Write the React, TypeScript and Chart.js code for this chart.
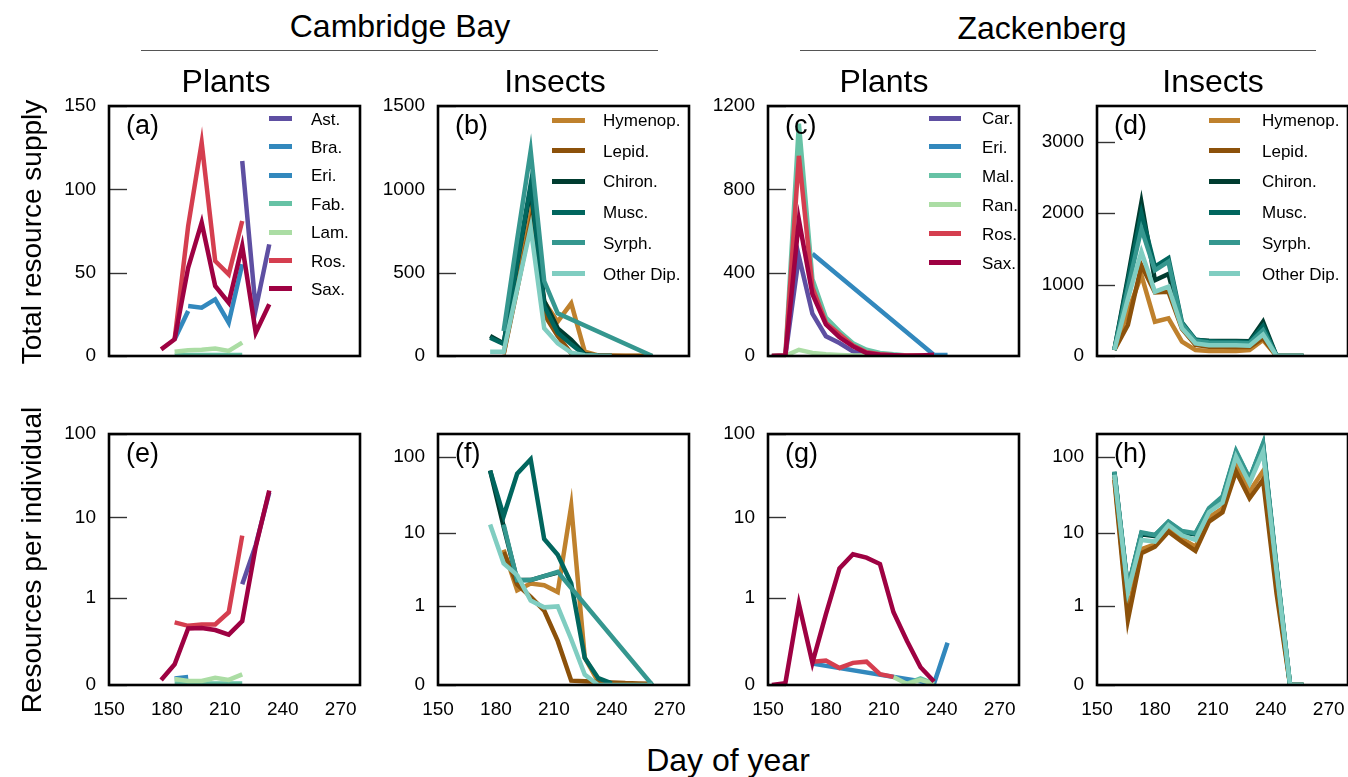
import React, { useEffect, useRef } from 'react';
import { Chart, registerables } from 'chart.js';
Chart.register(...registerables);

const FONT = "'Liberation Sans', Arial, Helvetica, sans-serif";

// ---------- colours ----------
const C_AST = '#5E4FA2';
const C_BRA = '#3288BD';
const C_ERI = '#3288BD';
const C_FAB = '#66C2A5';
const C_LAM = '#ABDDA4';
const C_ROS = '#D53E4F';
const C_SAX = '#9E0142';
const C_HYM = '#BF812D';
const C_LEP = '#8C510A';
const C_CHI = '#003C30';
const C_MUS = '#01665E';
const C_SYR = '#35978F';
const C_OTH = '#80CDC1';

// ---------- axes ----------
const xTicks = [150, 180, 210, 240, 270];
const xMin = 150;
const xMax = 280;

// ---------- Cambridge Bay ----------
const cbDays = [177, 184, 191, 198, 205, 212, 219, 226, 233, 240, 247, 254, 261];

// (a) plants, total resource supply
const aAst = [null, null, null, null, null, null, 117, 28, 67];
const aBra = [null, 10, 27];
const aEri = [null, null, 30, 29, 34, 20, 55];
const aFab = [null, 0.6, 0.6, 0.6, 0.6, 0.6, 0.6];
const aLam = [null, 2.5, 3.5, 3.8, 4.5, 3, 8];
const aRos = [null, 10, 78, 128, 57, 49, 81];
const aSax = [4, 10, 53, 80, 42, 32, 66, 14, 31];

// (b) insects, total resource supply
const bHym = [null, 15, 420, 850, 326, 206, 316, 26, 3, 2, 1, 1, 0];
const bLep = [null, 10, 400, 800, 250, 120, 15, 3, 1, 1, 0, 0, 0];
const bChi = [120, 75, 550, 1000, 330, 166, 96, 10, 3, 1];
const bMus = [110, 72, 560, 1030, 300, 140, 70, 6, 2];
const bSyr = [null, 150, 700, 1230, 450, 256, null, null, null, null, null, null, 0];
const bOth = [26, 26, 400, 770, 166, 76, 20, 5, 1, 0];

// (e) plants, resources per individual
const eAst = [null, null, null, null, null, null, 1.5, 4.6, 20];
const eBra = [null, 0.02, 0.025];
const eFab = [null, 0.004, 0.004, 0.004, 0.004, 0.004, 0.004];
const eLam = [null, 0.018, 0.012, 0.012, 0.022, 0.015, 0.034];
const eRos = [null, 0.46, 0.41, 0.43, 0.43, 0.64, 6.0];
const eSax = [0.015, 0.077, 0.375, 0.38, 0.354, 0.3, 0.48, 4.4, 21];

// (f) insects, resources per individual
const fHym = [null, 5.9, 1.66, 2.06, 1.95, 1.57, 22.5, 0.13, 0.01, 0.005, 0.003, 0.002, 0];
const fLep = [null, 5.5, 2.0, 1.34, 0.85, 0.28, 0.014, 0.012, 0.01, 0.008, 0.006, 0.005, 0.004];
const fChi = [66, 12, 2.3, 2.3, 2.6, 2.9];
const fMus = [66, 16.6, 60, 93, 8.2, 5.05, 2.06, 0.127, 0.023, 0.005];
const fSyr = [null, 12.8, 2.29, 2.3, 2.6, 2.98, null, null, null, null, null, null, 0];
const fOth = [12.8, 3.88, 2.69, 1.19, 0.95, 0.98, 0.3, 0.037, 0, 0, 0, 0, 0];

// ---------- Zackenberg ----------
const zpDays = [152, 159, 166, 173, 180, 187, 194, 201, 208, 215, 222, 229, 236, 243];

// (c) plants, total resource supply
const cCar = [0, 2, 478, 203, 95, 62, 22, 5, 2, 1, 0, 0, 0];
const cEri = [null, null, null, 491, null, null, null, null, null, null, null, null, 5, 5];
const cMal = [0, 2, 1115, 370, 184, 118, 61, 30, 15, 8, 3, 2, 1];
const cRan = [0, 1, 30, 15, 8, 5, 3, 2, 1, 1, 1, 1, 1];
const cRos = [0, 2, 961, 329, 159, 105, 50, 18, 8, 4, 2, 2, 3];
const cSax = [0, 3, 653, 297, 151, 90, 46, 14, 6, 4, 1, 3, 6];

// (g) plants, resources per individual
const gEri = [null, null, null, 0.08, null, null, null, null, null, null, null, null, 0.004, 0.22];
const gMal = [null, null, null, null, null, null, null, null, null, null, 0.004, 0.02, 0.003];
const gRan = [null, null, null, null, null, null, null, null, null, 0.025, 0.003, 0.015, 0.003];
const gRos = [null, null, null, 0.09, 0.096, 0.06, 0.084, 0.09, 0.035, 0.025];
const gSax = [0, 0.005, 0.83, 0.084, 0.605, 2.37, 3.55, 3.23, 2.69, 0.64, 0.236, 0.063, 0.01];

const ziDays = [159, 166, 173, 180, 187, 194, 201, 208, 215, 222, 229, 236, 243, 250, 257];

// (d) insects, total resource supply
const dHym = [84, 620, 1130, 480, 527, 200, 84, 70, 70, 70, 84, 224, 0, 0, 0];
const dLep = [84, 434, 1270, 890, 900, 380, 155, 130, 130, 125, 125, 250, 0, 0, 0];
const dChi = [84, 1100, 2150, 1060, 1150, 430, 225, 215, 210, 210, 205, 480, 0, 0, 0];
const dMus = [84, 1050, 2000, 1250, 1370, 470, 230, 205, 200, 200, 195, 420, 0, 0, 0];
const dSyr = [84, 950, 1780, 1200, 1320, 450, 215, 190, 185, 185, 180, 360, 0, 0, 0];
const dOth = [84, 800, 1460, 900, 970, 390, 177, 150, 150, 150, 145, 300, 0, 0, 0];

// (h) insects, resources per individual
const hHym = [55, 0.8, 6, 7, 11, 8.3, 6.5, 16, 21, 80, 35, 65, 2, 0, 0];
const hLep = [50, 0.62, 5.3, 6.5, 10.3, 7.6, 5.7, 14, 18.6, 64, 28.5, 50, 1.5, 0, 0];
const hChi = [62, 1.7, 9.5, 9, 13.5, 10, 9.5, 20, 28, 110, 50, 140, 3.2, 0, 0];
const hMus = [63, 1.75, 9.8, 9.2, 13.8, 10.2, 9.6, 20.5, 29, 115, 51, 145, 3.3, 0, 0];
const hSyr = [64, 1.8, 10.1, 9.3, 14, 10.5, 9.8, 21, 30, 120, 52, 151, 3.5, 0, 0];
const hOth = [58, 1.59, 8.0, 7.6, 12.6, 9.2, 8.0, 18.6, 25, 101, 45, 117, 3, 0, 0];

// ---------- tick labels ----------
const aTicks = [0, 50, 100, 150];
const bTicks = [0, 500, 1000, 1500];
const cTicks = [0, 400, 800, 1200];
const dTicks = [0, 1000, 2000, 3000];
const logTicks = [0, 1, 10, 100];
const logTickLabels = ['0', '1', '10', '100'];

// ---------- layout ----------
const COLS = [109, 438, 768, 1097];
const ROWS = [{ top: 106, h: 250 }, { top: 434, h: 251 }];
const PLOT_W = 251;
const PAD_L = 80;
const PAD_T = 32;
const PAD_R = 25;
const PAD_B = 45;
const TICK_FONT = 19;

type Series = { label: string; color: string; values: (number | null)[] };
type Cfg = {
  col: number; row: number; tag: string; days: number[]; series: Series[];
  log: boolean; yMax: number; yTicks: number[]; yLabels: string[]; showX: boolean;
};

const panels: Cfg[] = [
  { col: 0, row: 0, tag: '(a)', days: cbDays, log: false, yMax: 150, yTicks: aTicks, yLabels: aTicks.map(String), showX: false,
    series: [
      { label: 'Ast.', color: C_AST, values: aAst }, { label: 'Bra.', color: C_BRA, values: aBra },
      { label: 'Eri.', color: C_ERI, values: aEri }, { label: 'Fab.', color: C_FAB, values: aFab },
      { label: 'Lam.', color: C_LAM, values: aLam }, { label: 'Ros.', color: C_ROS, values: aRos },
      { label: 'Sax.', color: C_SAX, values: aSax }] },
  { col: 1, row: 0, tag: '(b)', days: cbDays, log: false, yMax: 1500, yTicks: bTicks, yLabels: bTicks.map(String), showX: false,
    series: [
      { label: 'Hymenop.', color: C_HYM, values: bHym }, { label: 'Lepid.', color: C_LEP, values: bLep },
      { label: 'Chiron.', color: C_CHI, values: bChi }, { label: 'Musc.', color: C_MUS, values: bMus },
      { label: 'Syrph.', color: C_SYR, values: bSyr }, { label: 'Other Dip.', color: C_OTH, values: bOth }] },
  { col: 2, row: 0, tag: '(c)', days: zpDays, log: false, yMax: 1200, yTicks: cTicks, yLabels: cTicks.map(String), showX: false,
    series: [
      { label: 'Car.', color: C_AST, values: cCar }, { label: 'Eri.', color: C_ERI, values: cEri },
      { label: 'Mal.', color: C_FAB, values: cMal }, { label: 'Ran.', color: C_LAM, values: cRan },
      { label: 'Ros.', color: C_ROS, values: cRos }, { label: 'Sax.', color: C_SAX, values: cSax }] },
  { col: 3, row: 0, tag: '(d)', days: ziDays, log: false, yMax: 3500, yTicks: dTicks, yLabels: dTicks.map(String), showX: false,
    series: [
      { label: 'Hymenop.', color: C_HYM, values: dHym }, { label: 'Lepid.', color: C_LEP, values: dLep },
      { label: 'Chiron.', color: C_CHI, values: dChi }, { label: 'Musc.', color: C_MUS, values: dMus },
      { label: 'Syrph.', color: C_SYR, values: dSyr }, { label: 'Other Dip.', color: C_OTH, values: dOth }] },
  { col: 0, row: 1, tag: '(e)', days: cbDays, log: true, yMax: 100, yTicks: logTicks, yLabels: logTickLabels, showX: true,
    series: [
      { label: 'Ast.', color: C_AST, values: eAst }, { label: 'Bra.', color: C_BRA, values: eBra },
      { label: 'Fab.', color: C_FAB, values: eFab }, { label: 'Lam.', color: C_LAM, values: eLam },
      { label: 'Ros.', color: C_ROS, values: eRos }, { label: 'Sax.', color: C_SAX, values: eSax }] },
  { col: 1, row: 1, tag: '(f)', days: cbDays, log: true, yMax: 200, yTicks: logTicks, yLabels: logTickLabels, showX: true,
    series: [
      { label: 'Hymenop.', color: C_HYM, values: fHym }, { label: 'Lepid.', color: C_LEP, values: fLep },
      { label: 'Chiron.', color: C_CHI, values: fChi }, { label: 'Musc.', color: C_MUS, values: fMus },
      { label: 'Syrph.', color: C_SYR, values: fSyr }, { label: 'Other Dip.', color: C_OTH, values: fOth }] },
  { col: 2, row: 1, tag: '(g)', days: zpDays, log: true, yMax: 100, yTicks: logTicks, yLabels: logTickLabels, showX: true,
    series: [
      { label: 'Eri.', color: C_ERI, values: gEri }, { label: 'Mal.', color: C_FAB, values: gMal },
      { label: 'Ran.', color: C_LAM, values: gRan }, { label: 'Ros.', color: C_ROS, values: gRos },
      { label: 'Sax.', color: C_SAX, values: gSax }] },
  { col: 3, row: 1, tag: '(h)', days: ziDays, log: true, yMax: 200, yTicks: logTicks, yLabels: logTickLabels, showX: true,
    series: [
      { label: 'Hymenop.', color: C_HYM, values: hHym }, { label: 'Lepid.', color: C_LEP, values: hLep },
      { label: 'Chiron.', color: C_CHI, values: hChi }, { label: 'Musc.', color: C_MUS, values: hMus },
      { label: 'Syrph.', color: C_SYR, values: hSyr }, { label: 'Other Dip.', color: C_OTH, values: hOth }] },
];

const legends = [
  { swX: 269, swW: 23, txtX: 311, y0: 118.5, dy: 28.4, items: panels[0].series },
  { swX: 552, swW: 33, txtX: 603, y0: 120, dy: 30.7, items: panels[1].series },
  { swX: 929, swW: 32, txtX: 982, y0: 118, dy: 28.9, items: panels[2].series },
  { swX: 1209, swW: 31, txtX: 1262, y0: 120, dy: 30.7, items: panels[3].series },
];

const framePlugin = {
  id: 'frame',
  afterDatasetsDraw(chart: any) {
    const { ctx, chartArea: a, scales } = chart;
    const y = scales.y;
    ctx.save();
    ctx.strokeStyle = '#333';
    ctx.lineWidth = 1.4;
    y.ticks.forEach((t: any) => {
      const py = Math.round(y.getPixelForValue(t.value)) + 0.5;
      ctx.beginPath();
      ctx.moveTo(a.left, py);
      ctx.lineTo(a.left + 18, py);
      ctx.stroke();
    });
    ctx.strokeStyle = '#000';
    ctx.lineWidth = 2.6;
    ctx.strokeRect(a.left, a.top, a.right - a.left, a.bottom - a.top);
    ctx.restore();
  },
};

function Panel({ cfg }: { cfg: Cfg }) {
  const ref = useRef<HTMLCanvasElement>(null);
  const row = ROWS[cfg.row];
  const w = PAD_L + PLOT_W + PAD_R;
  const h = PAD_T + row.h + PAD_B;
  useEffect(() => {
    const tf = (v: number) => (cfg.log ? Math.log10(v + 0.1) : v);
    const n = cfg.series.length;
    const datasets = cfg.series.map((s, i) => ({
      label: s.label,
      data: cfg.days.map((d, j) => {
        const v = s.values[j];
        return { x: d, y: v == null ? null : tf(v) };
      }),
      borderColor: s.color,
      backgroundColor: s.color,
      borderWidth: 4.5,
      pointRadius: 0,
      tension: 0,
      spanGaps: true,
      fill: false,
      order: n - i,
    }));
    const yVals = cfg.yTicks.map(tf);
    const chart = new Chart(ref.current as HTMLCanvasElement, {
      type: 'line',
      data: { datasets } as any,
      options: {
        animation: false,
        responsive: false,
        devicePixelRatio: 1,
        events: [],
        layout: { padding: { top: PAD_T, right: PAD_R, left: 0, bottom: 0 } },
        plugins: { legend: { display: false }, tooltip: { enabled: false } },
        scales: {
          x: {
            type: 'linear', min: xMin, max: xMax,
            grid: { display: false, drawTicks: false }, border: { display: false },
            ticks: { display: cfg.showX, font: { family: FONT, size: TICK_FONT }, color: '#000', padding: 13, maxRotation: 0, autoSkip: false },
            afterBuildTicks: (s: any) => { s.ticks = xTicks.map((v) => ({ value: v })); },
            afterFit: (s: any) => { s.height = PAD_B; },
          },
          y: {
            type: 'linear', min: tf(0), max: tf(cfg.yMax),
            grid: { display: false, drawTicks: false }, border: { display: false },
            ticks: { font: { family: FONT, size: TICK_FONT }, color: '#000', padding: 13, autoSkip: false,
              callback: (_v: any, idx: number) => cfg.yLabels[idx] },
            afterBuildTicks: (s: any) => { s.ticks = yVals.map((v) => ({ value: v })); },
            afterFit: (s: any) => { s.width = PAD_L; },
          },
        },
      } as any,
      plugins: [framePlugin],
    });
    return () => chart.destroy();
  }, []);
  return (
    <canvas
      ref={ref}
      width={w}
      height={h}
      style={{ position: 'absolute', left: COLS[cfg.col] - PAD_L, top: row.top - PAD_T, width: w, height: h }}
    />
  );
}

const txt = (s: string, x: number, y: number, size: number, extra: any = {}) => (
  <div
    key={s + x + y}
    style={{
      position: 'absolute', left: x, top: y, transform: 'translate(-50%, -50%)' + (extra.rot ? ' rotate(-90deg)' : ''),
      fontFamily: FONT, fontSize: size, lineHeight: 1, whiteSpace: 'nowrap', color: '#000',
    }}
  >
    {s}
  </div>
);

export default function App() {
  return (
    <div style={{ position: 'absolute', left: 0, top: 0, width: 1348, height: 777, background: '#fff', overflow: 'hidden' }}>
      {panels.map((p) => <Panel key={p.tag} cfg={p} />)}
      {panels.map((p) => (
        <div key={'t' + p.tag} style={{ position: 'absolute', left: COLS[p.col] + 17, top: ROWS[p.row].top + 6, fontFamily: FONT, fontSize: 27, lineHeight: 1, whiteSpace: 'nowrap' }}>
          {p.tag}
        </div>
      ))}
      {legends.map((lg, li) =>
        lg.items.map((it, i) => (
          <React.Fragment key={'lg' + li + '_' + i}>
            <div style={{ position: 'absolute', left: lg.swX, top: lg.y0 + i * lg.dy - 2.5, width: lg.swW, height: 5, background: it.color }} />
            <div style={{ position: 'absolute', left: lg.txtX, top: lg.y0 + i * lg.dy, transform: 'translateY(-50%)', fontFamily: FONT, fontSize: 17, lineHeight: 1, whiteSpace: 'nowrap' }}>
              {it.label}
            </div>
          </React.Fragment>
        ))
      )}
      {txt('Cambridge Bay', 400, 26, 32)}
      {txt('Zackenberg', 1042, 28, 32)}
      <div style={{ position: 'absolute', left: 141, top: 50, width: 517, height: 0, borderTop: '1px solid #555' }} />
      <div style={{ position: 'absolute', left: 800, top: 50, width: 516, height: 0, borderTop: '1px solid #555' }} />
      {txt('Plants', 226, 81, 32)}
      {txt('Insects', 555, 81, 32)}
      {txt('Plants', 884, 81, 32)}
      {txt('Insects', 1213, 81, 32)}
      {txt('Total resource supply', 32, 232, 28, { rot: true })}
      {txt('Resources per individual', 32, 560, 28, { rot: true })}
      {txt('Day of year', 728, 760, 32)}
    </div>
  );
}
